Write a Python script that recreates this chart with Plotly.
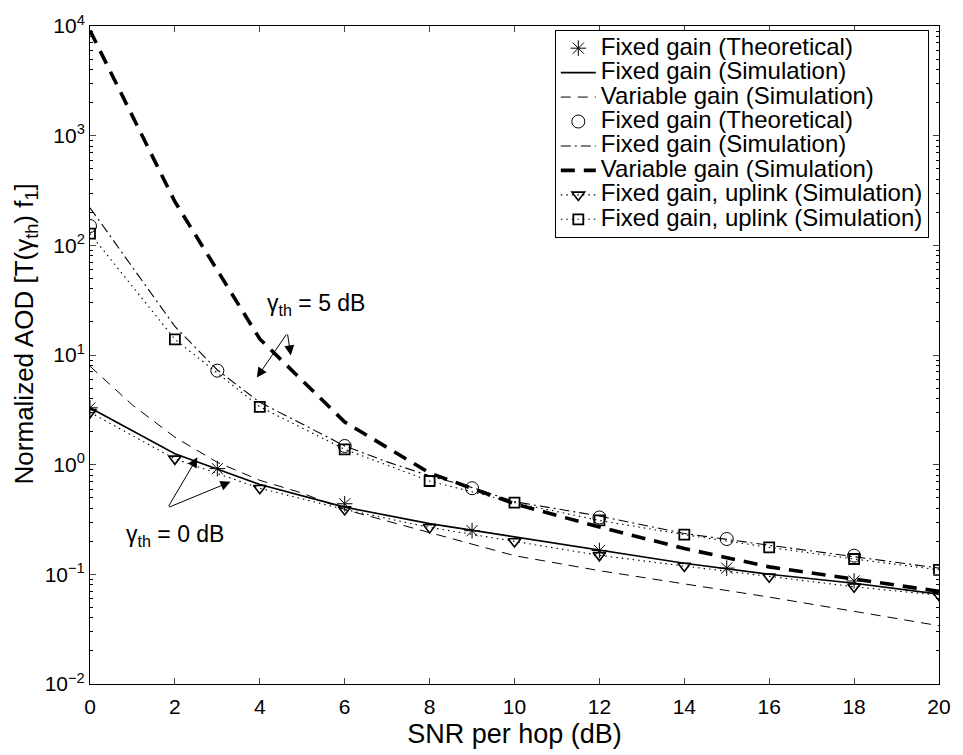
import plotly.graph_objects as go

# ---------------- data ----------------
snr = [0, 2, 4, 6, 8, 10, 12, 14, 16, 18, 20]
snr_theo = [0, 3, 6, 9, 12, 15, 18]
snr_var0 = [0, 1, 2, 3, 4, 5, 6, 8, 10, 12, 14, 16, 18, 20]
snr_fix5 = [0, 2, 3, 4, 5, 6, 7, 8, 9, 10, 12, 14, 16, 18, 20]

# gamma_th = 0 dB
fixed_theo_0 = [3.3, 0.92, 0.44, 0.25, 0.165, 0.114, 0.087]
fixed_sim_0 = [3.3, 1.26, 0.66, 0.41, 0.29, 0.22, 0.165, 0.126, 0.100, 0.083, 0.066]
var_sim_0 = [7.9, 3.5, 1.78, 1.05, 0.72, 0.55, 0.39, 0.24, 0.148, 0.108, 0.082, 0.062, 0.046, 0.034]
uplink_0 = [3.0, 1.13, 0.61, 0.39, 0.268, 0.199, 0.149, 0.119, 0.095, 0.077, 0.0645]

# gamma_th = 5 dB
fixed_theo_5 = [150, 7.2, 1.48, 0.61, 0.33, 0.21, 0.148]
fixed_sim_5 = [220, 18.2, 7.3, 3.7, 2.35, 1.48, 1.06, 0.79, 0.62, 0.46, 0.34, 0.236, 0.184, 0.145, 0.114]
var_sim_5 = [9100, 250, 14, 2.45, 0.84, 0.44, 0.27, 0.172, 0.117, 0.09, 0.07]
uplink_5 = [128, 13.9, 3.37, 1.38, 0.71, 0.45, 0.31, 0.23, 0.176, 0.138, 0.110]

names = [
    "Fixed gain (Theoretical)",
    "Fixed gain (Simulation)",
    "Variable gain (Simulation)",
    "Fixed gain (Theoretical)",
    "Fixed gain (Simulation)",
    "Variable gain (Simulation)",
    "Fixed gain, uplink (Simulation)",
    "Fixed gain, uplink (Simulation)",
]

x_ticks = [0, 2, 4, 6, 8, 10, 12, 14, 16, 18, 20]
y_ticks = [1e-2, 1e-1, 1e0, 1e1, 1e2, 1e3, 1e4]
y_ticktext = ["10<sup>\u22122</sup>", "10<sup>\u22121</sup>", "10<sup>0</sup>",
              "10<sup>1</sup>", "10<sup>2</sup>", "10<sup>3</sup>", "10<sup>4</sup>"]
y_minor = [m * 10.0 ** d for d in range(-2, 4) for m in range(2, 10)]

x_title = "SNR per hop (dB)"
y_title = "Normalized AOD [T(\u03b3<sub>th</sub>) f<sub>1</sub>]"
note_5 = "\u03b3<sub>th</sub> = 5 dB"
note_0 = "\u03b3<sub>th</sub> = 0 dB"

FONT = "Liberation Sans"
LEG_PX = 24
TICK_PX = 21
XT_PX = 27
YT_PX = 26
NOTE_PX = 23


def sized(text, px):
    return '<span style="font-size:%spx">%s</span>' % (px, text)


fig = go.Figure()

fig.add_trace(go.Scatter(x=snr_theo, y=fixed_theo_0, mode="markers", name=sized(names[0], LEG_PX),
                         marker=dict(symbol="asterisk-open", size=13, color="black",
                                     line=dict(color="black", width=1))))
fig.add_trace(go.Scatter(x=snr, y=fixed_sim_0, mode="lines", name=sized(names[1], LEG_PX),
                         line=dict(color="black", width=1.6)))
fig.add_trace(go.Scatter(x=snr_var0, y=var_sim_0, mode="lines", name=sized(names[2], LEG_PX),
                         line=dict(color="black", width=1, dash="10px,7px")))
fig.add_trace(go.Scatter(x=snr_theo, y=fixed_theo_5, mode="markers", name=sized(names[3], LEG_PX),
                         marker=dict(symbol="circle-open", size=13, color="black",
                                     line=dict(color="black", width=1))))
fig.add_trace(go.Scatter(x=snr_fix5, y=fixed_sim_5, mode="lines", name=sized(names[4], LEG_PX),
                         line=dict(color="black", width=1.1, dash="10px,4px,2px,4px")))
fig.add_trace(go.Scatter(x=snr, y=var_sim_5, mode="lines", name=sized(names[5], LEG_PX),
                         line=dict(color="black", width=3.6, dash="14px,9px")))
fig.add_trace(go.Scatter(x=snr, y=uplink_0, mode="lines+markers", name=sized(names[6], LEG_PX),
                         line=dict(color="black", width=1.1, dash="1.5px,4px"),
                         marker=dict(symbol="triangle-down-open", size=11, color="black",
                                     line=dict(color="black", width=1.6))))
fig.add_trace(go.Scatter(x=snr, y=uplink_5, mode="lines+markers", name=sized(names[7], LEG_PX),
                         line=dict(color="black", width=1.1, dash="1.5px,4px"),
                         marker=dict(symbol="square-open", size=10, color="black",
                                     line=dict(color="black", width=1.8))))

# annotations (positions in axis units; log10 for y)
arrow_common = dict(xref="x", yref="y", axref="x", ayref="y", text="", showarrow=True,
                    arrowhead=2, arrowsize=2, arrowwidth=1, arrowcolor="black", standoff=0)
annotations = [
    dict(x=3.93, y=0.794, ax=4.65, ay=1.201, **arrow_common),
    dict(x=4.73, y=0.996, ax=4.65, ay=1.201, **arrow_common),
    dict(x=2.53, y=0.067, ax=1.83, ay=-0.393, **arrow_common),
    dict(x=3.31, y=-0.156, ax=1.83, ay=-0.393, **arrow_common),
    dict(x=5.32, y=1.46, xref="x", yref="y", text=note_5,
         showarrow=False, font=dict(family=FONT, size=NOTE_PX, color="black")),
    dict(x=2.01, y=-0.65, xref="x", yref="y", text=note_0,
         showarrow=False, font=dict(family=FONT, size=NOTE_PX, color="black")),
    # y-axis title, placed as in the reference (slightly above the axis centre)
    dict(x=-0.076, y=0.532, xref="paper", yref="paper", text=y_title, textangle=-90,
         showarrow=False, xanchor="center", yanchor="middle",
         font=dict(family=FONT, size=YT_PX, color="black")),
]

fig.update_layout(
    width=963, height=755,
    margin=dict(l=90, r=16, t=20, b=62),
    paper_bgcolor="white", plot_bgcolor="white",
    font=dict(family=FONT, size=20, color="black"),
    showlegend=True,
    legend=dict(x=0.988, y=0.994, xanchor="right", yanchor="top",
                bgcolor="white", bordercolor="black", borderwidth=1,
                font=dict(family=FONT, size=16.5, color="black"),
                itemwidth=35, tracegroupgap=0),
    annotations=annotations,
    xaxis=dict(range=[0, 20], tickvals=x_ticks,
               ticks="inside", ticklen=6,
               showline=True, linecolor="black", linewidth=1, mirror="ticks",
               showgrid=False, zeroline=False, tickfont=dict(family=FONT, size=TICK_PX),
               ticklabelstandoff=4,
               title=dict(text=x_title, font=dict(family=FONT, size=XT_PX), standoff=6)),
    yaxis=dict(type="log", range=[-2, 4], tickvals=y_ticks, ticktext=y_ticktext,
               ticks="inside", ticklen=6, showline=True, linecolor="black", linewidth=1,
               mirror="ticks", showgrid=False, zeroline=False,
               tickfont=dict(family=FONT, size=TICK_PX),
               minor=dict(tickvals=y_minor, ticks="inside", ticklen=3, tickcolor="black")),
)

fig.write_html("out.html")
